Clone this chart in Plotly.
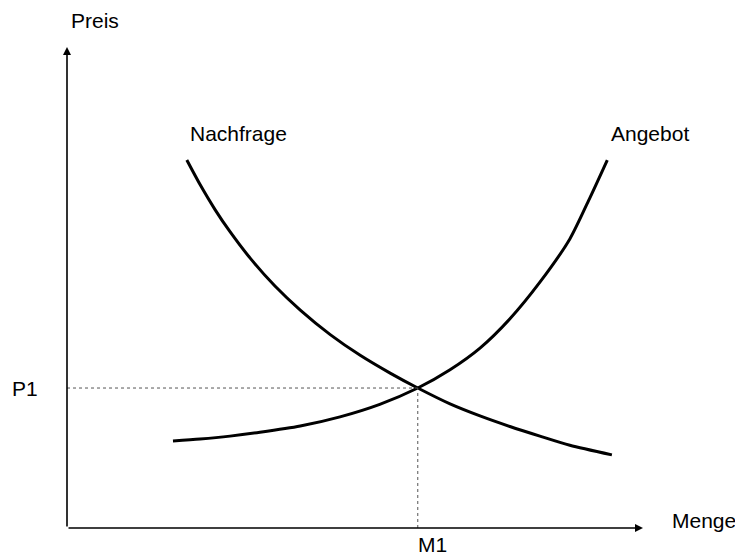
import plotly.graph_objects as go

# Demand curve (Nachfrage)
demand_x = [2.08, 2.31, 2.57, 2.83, 3.18, 3.61, 4.05, 4.57, 5.09, 5.61, 6.09,
            6.65, 7.17, 7.69, 8.21, 8.73, 9.46]
demand_y = [7.65, 7.14, 6.62, 6.16, 5.61, 5.03, 4.53, 4.02, 3.59, 3.22, 2.91,
            2.58, 2.33, 2.11, 1.91, 1.72, 1.52]
# Supply curve (Angebot)
supply_x = [1.84, 2.31, 2.83, 3.35, 4.05, 4.74, 5.43, 6.09, 6.65, 7.17, 7.69,
            8.21, 8.73, 9.08, 9.38]
supply_y = [1.81, 1.85, 1.91, 1.99, 2.12, 2.31, 2.57, 2.91, 3.29, 3.74, 4.35,
            5.11, 6.01, 6.87, 7.65]
# Equilibrium
eq_x = 6.09
eq_y = 2.91

FONT = "Liberation Sans, Arial, sans-serif"

fig = go.Figure()
for xs, ys in ((demand_x, demand_y), (supply_x, supply_y)):
    fig.add_trace(go.Scatter(x=xs, y=ys, mode="lines",
                             line=dict(color="black", width=3, shape="spline", smoothing=0.7),
                             hoverinfo="skip", showlegend=False))

# dotted guide lines
fig.add_shape(type="line", x0=0, y0=eq_y, x1=eq_x, y1=eq_y, xref="x", yref="y",
              line=dict(color="#555", width=1, dash="dot"))
fig.add_shape(type="line", x0=eq_x, y0=0, x1=eq_x, y1=eq_y, xref="x", yref="y",
              line=dict(color="#555", width=1, dash="dot"))

# axes with arrows
fig.add_annotation(x=10, y=0, ax=0, ay=0, xref="x", yref="y", axref="x", ayref="y",
                   text="", showarrow=True, arrowhead=2, arrowsize=1, arrowwidth=1.6,
                   arrowcolor="black", standoff=0, startstandoff=0)
fig.add_annotation(x=0, y=10, ax=0, ay=0, xref="x", yref="y", axref="x", ayref="y",
                   text="", showarrow=True, arrowhead=2, arrowsize=1, arrowwidth=1.6,
                   arrowcolor="black", standoff=0, startstandoff=0)

def label(text, x, y, xref="paper", yref="paper", xanchor="center"):
    fig.add_annotation(x=x, y=y, xref=xref, yref=yref, text=text, showarrow=False,
                       xanchor=xanchor, yanchor="middle",
                       font=dict(family=FONT, size=21, color="black"))

label("Preis", 0.0486, 1.056)
label("Nachfrage", 0.2986, 0.821)
label("Angebot", 1.012, 0.821)
label("P1", -0.0729, eq_y, yref="y")
label("M1", 0.635, -0.0353)
label("Menge", 1.106, 0.0166)

fig.update_xaxes(range=[0, 10], visible=False, fixedrange=True)
fig.update_yaxes(range=[0, 10], visible=False, fixedrange=True)
# page body has an 8px margin, so the figure is 8px smaller on left/top
fig.update_layout(width=735, height=549,
                  margin=dict(l=59, r=100, t=39, b=29),
                  plot_bgcolor="white", paper_bgcolor="white",
                  showlegend=False)

fig.write_html("out.html")
